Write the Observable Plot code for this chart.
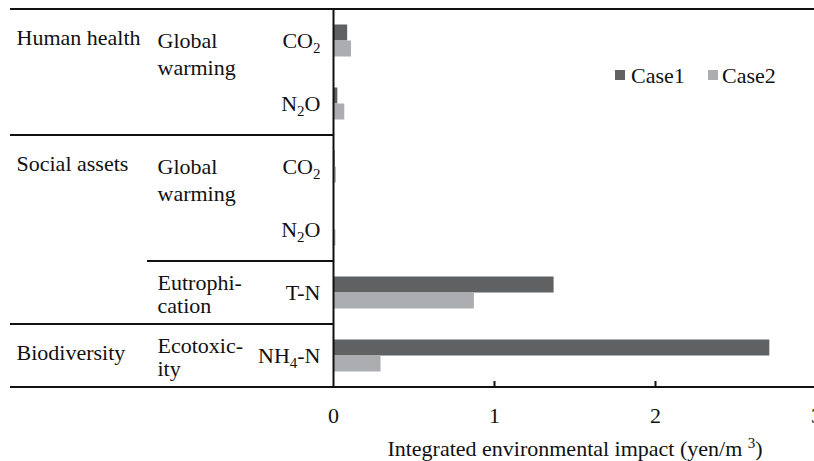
<!DOCTYPE html>
<html><head><meta charset="utf-8">
<script src="https://cdn.jsdelivr.net/npm/d3@7"></script>
<script src="https://cdn.jsdelivr.net/npm/@observablehq/plot@0.6"></script>
<style>
body{margin:0;background:#fff;overflow:hidden}
#chart svg{overflow:visible}
</style>
</head><body><div id="chart"></div>
<script>
// ---- data ----
const rowKeys = ["HH CO2", "HH N2O", "SA CO2", "SA N2O", "SA T-N", "BD NH4-N"];
const pollutants = ["CO2", "N2O", "CO2", "N2O", "T-N", "NH4-N"];
const areaLabels = ["Human health", "Social assets", "Biodiversity"];
const areaOfRow = [0, 0, 1, 1, 1, 2];
const impactLabels = ["Global\nwarming", "Global\nwarming", "Eutrophi-\ncation", "Ecotoxic-\nity"];
const impactOfRow = [0, 0, 1, 1, 2, 3];
const seriesNames = ["Case1", "Case2"];
const case1 = [0.088, 0.027, 0.01, 0.002, 1.37, 2.71];
const case2 = [0.112, 0.07, 0.018, 0.015, 0.875, 0.295];
const xTicks = [0, 1, 2, 3];
const xLabel = "Integrated environmental impact (yen/m 3)";
const colors = ["#5f6162", "#acadb0"];

// ---- layout ----
const W = 814, H = 461, mL = 333, mR = -2, mT = 9, mB = 74;
const FS = 22, barH = 16;
const step = (H - mT - mB) / rowKeys.length;

const c1 = rowKeys.map((r, i) => ({row: r, value: case1[i]}));
const c2 = rowKeys.map((r, i) => ({row: r, value: case2[i]}));
const polData = rowKeys.map((r, i) => ({row: r, label: pollutants[i]}));
const areaData = areaLabels.map((a, k) => ({row: rowKeys[areaOfRow.indexOf(k)], label: a}));
const uniqImpacts = [...new Set(impactOfRow)];
const impactData = uniqImpacts.map(k => ({
  row: rowKeys[impactOfRow.indexOf(k)],
  label: impactLabels[k],
  span: impactOfRow.filter(v => v === k).length
}));

const plot = Plot.plot({
  width: W, height: H,
  marginLeft: mL, marginRight: mR, marginTop: mT, marginBottom: mB,
  style: {fontFamily: "'Liberation Serif', 'Times New Roman', serif", fontSize: FS + "px", color: "#111", background: "#fff"},
  x: {domain: [xTicks[0], xTicks[xTicks.length - 1]], ticks: xTicks, label: null},
  y: {domain: rowKeys, padding: 0, axis: null},
  marks: [
    Plot.barX(c1, {x: "value", y: "row", fill: colors[0], insetTop: step / 2 - barH, insetBottom: step / 2}),
    Plot.barX(c2, {x: "value", y: "row", fill: colors[1], insetTop: step / 2, insetBottom: step / 2 - barH}),
    Plot.ruleX([0], {stroke: "#111", strokeWidth: 2}),
    Plot.tickX(xTicks.slice(1), {x: d => d, stroke: "#111", strokeWidth: 2, insetTop: H - mT - mB - 6}),
    Plot.axisX({ticks: xTicks, tickSize: 0, tickPadding: 20, fontSize: FS, label: null, tickFormat: d3.format("d")}),
    Plot.text(polData, {y: "row", text: "label", frameAnchor: "left", textAnchor: "end", dx: -13, lineAnchor: "middle", fontSize: FS, fill: "#111"}),
    Plot.text(areaData, {y: "row", text: "label", frameAnchor: "left", textAnchor: "start", dx: 16 - mL, lineAnchor: "top", dy: -12, fontSize: FS, fill: "#111"}),
    Plot.text(impactData.filter(d => d.span > 1), {y: "row", text: "label", frameAnchor: "left", textAnchor: "start", dx: 157 - mL, lineAnchor: "top", dy: -12, lineHeight: 1.22, fontSize: FS, fill: "#111"}),
    Plot.text(impactData.filter(d => d.span === 1), {y: "row", text: "label", frameAnchor: "left", textAnchor: "start", dx: 157 - mL, lineAnchor: "middle", dy: 1, lineHeight: 1.07, fontSize: FS, fill: "#111"}),
    Plot.text([xLabel], {frameAnchor: "bottom", text: d => d, lineAnchor: "middle", dy: 61, fontSize: FS, fill: "#111"})
  ]
});
document.getElementById("chart").appendChild(plot);

// ---- structural lines (from the y scale) ----
const svg = d3.select(plot);
const ys = plot.scale("y");
const yTop = ys.apply(rowKeys[0]);
const yBot = ys.apply(rowKeys[rowKeys.length - 1]) + ys.bandwidth;
const lines = svg.append("g").attr("stroke", "#111").attr("stroke-width", 2);
function hline(x1, x2, y) { lines.append("line").attr("x1", x1).attr("x2", x2).attr("y1", y).attr("y2", y); }
hline(10, W, yTop);
hline(10, W, yBot);
areaLabels.forEach((a, k) => { if (k > 0) hline(10, mL, ys.apply(rowKeys[areaOfRow.indexOf(k)])); });
uniqImpacts.forEach(k => {
  const i = impactOfRow.indexOf(k);
  if (i > 0 && areaOfRow[i] === areaOfRow[i - 1]) hline(147, mL, ys.apply(rowKeys[i]));
});

// ---- subscripts / superscripts ----
svg.selectAll("text").each(function () {
  const t = this;
  if (t.querySelector("tspan")) return;
  const s = t.textContent;
  if (pollutants.includes(s) && /\d/.test(s)) {
    t.textContent = "";
    const parts = s.split(/(\d)/).filter(p => p !== "");
    let shifted = false;
    parts.forEach(p => {
      const ts = document.createElementNS("http://www.w3.org/2000/svg", "tspan");
      ts.textContent = p;
      if (/\d/.test(p)) { ts.setAttribute("font-size", "15"); ts.setAttribute("dy", "5"); shifted = true; }
      else if (shifted) { ts.setAttribute("dy", "-5"); shifted = false; }
      t.appendChild(ts);
    });
  } else if (s === xLabel) {
    t.textContent = "";
    const a = document.createElementNS("http://www.w3.org/2000/svg", "tspan");
    a.textContent = xLabel.slice(0, -2);
    const b = document.createElementNS("http://www.w3.org/2000/svg", "tspan");
    b.textContent = xLabel.slice(-2, -1); b.setAttribute("font-size", "15"); b.setAttribute("dy", "-8");
    const c = document.createElementNS("http://www.w3.org/2000/svg", "tspan");
    c.textContent = xLabel.slice(-1); c.setAttribute("dy", "8");
    t.append(a, b, c);
  }
});

// ---- legend ----
const lg = svg.append("g").attr("font-size", FS).attr("fill", "#111").attr("text-anchor", "start");
const lgX = [615, 708], lgTx = [631, 722];
seriesNames.forEach((n, i) => {
  lg.append("rect").attr("x", lgX[i]).attr("y", 70).attr("width", 10).attr("height", 10).attr("fill", colors[i]);
  lg.append("text").attr("x", lgTx[i]).attr("y", 83).attr("text-anchor", "start").text(n);
});
</script>
</body></html>
